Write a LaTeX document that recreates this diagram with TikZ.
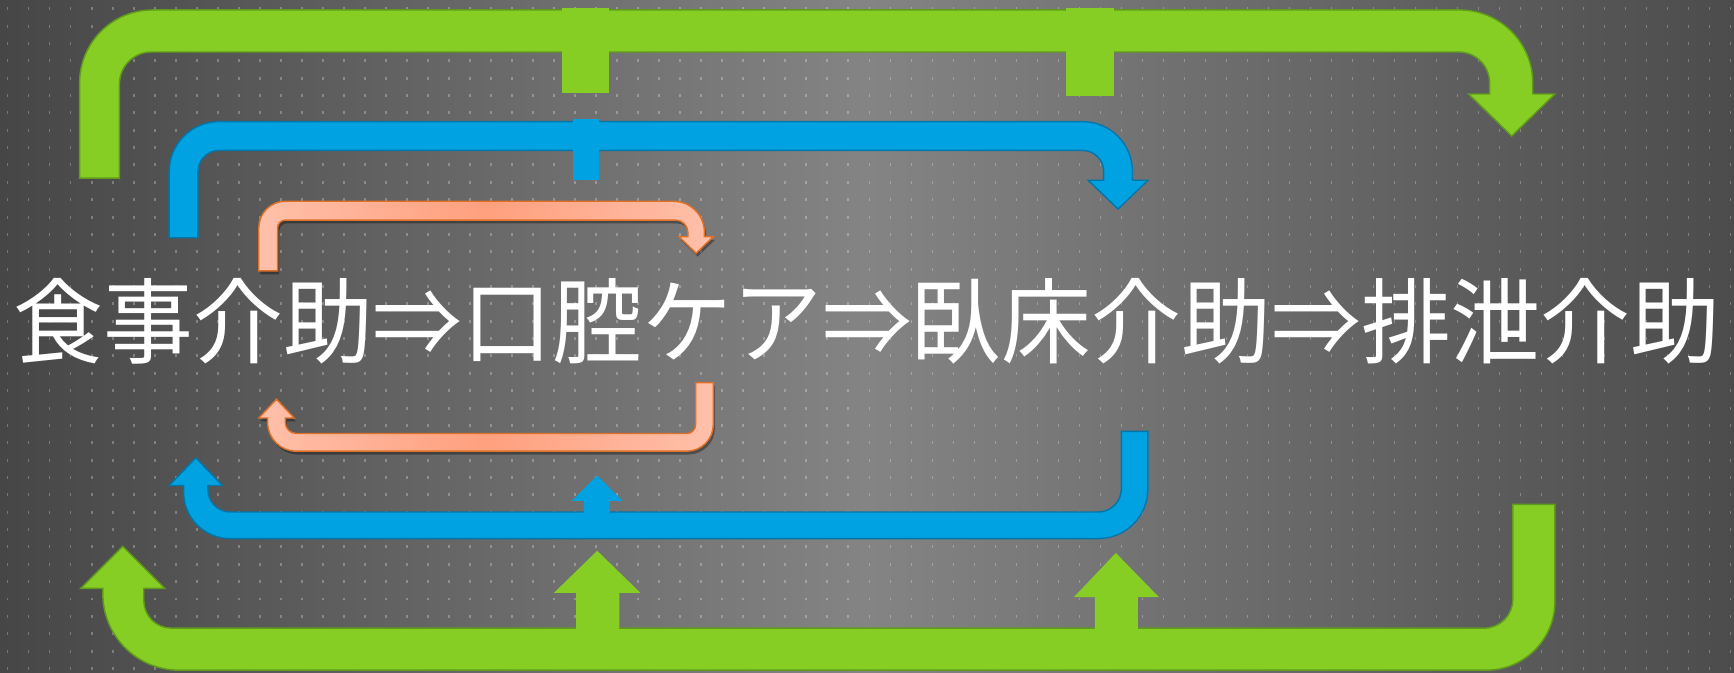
\documentclass[tikz,border=0pt]{standalone}
\usepackage{fontspec}
\newfontfamily\jp{Noto Sans CJK JP}
\definecolor{gfill}{RGB}{134,206,36}
\definecolor{gline}{RGB}{96,156,28}
\definecolor{bfill}{RGB}{0,162,226}
\definecolor{bline}{RGB}{0,118,170}
\definecolor{ofillL}{RGB}{255,192,170}
\definecolor{ofillM}{RGB}{255,160,126}
\definecolor{oline}{RGB}{222,112,40}
\definecolor{bgdark}{RGB}{70,70,70}
\definecolor{bgmid}{RGB}{132,132,132}
\definecolor{bgright}{RGB}{76,76,76}
\begin{document}
\begin{tikzpicture}[x=1pt,y=-1pt,
  garrow/.style={fill=gfill, draw=gline, line width=1.3pt},
  barrow/.style={fill=bfill, draw=bline, line width=1.3pt},
  oarrow/.style={left color=ofillL, right color=ofillL, middle color=ofillM, draw=oline, line width=1.3pt,
     preaction={fill=black, opacity=0.35, transform canvas={xshift=1.5pt, yshift=-3pt}}},
  gtick/.style={fill=gfill},
  btick/.style={fill=bfill},
  dotcol/.style={draw=white, opacity=0.27, line width=1.3pt, dash pattern=on 2.7pt off 13pt},
  label/.style={text=white, font=\jp\fontsize{84}{90}\selectfont, inner sep=0pt, xscale=0.967}]
\useasboundingbox (0,0) rectangle (1568,608);
% background
\fill[left color=bgdark, right color=bgright, middle color=bgmid] (0,0) rectangle (1568,608);
\foreach \i in {0,...,82} {
  \draw[dotcol] (7+19*\i, 6.5) -- (7+19*\i, 608);
}
% top green arrow
\draw[garrow] (72,161) -- (72,75) arc[start angle=180, end angle=270, radius=66]
  -- (1320,9) arc[start angle=270, end angle=360, radius=66]
  -- (1386,85) -- (1406,85) -- (1367,123) -- (1328,85) -- (1347,85) -- (1347,75)
  arc[start angle=0, end angle=-90, radius=28] -- (137,47)
  arc[start angle=270, end angle=180, radius=29] -- (108,161) -- cycle;
\fill[gtick] (508,7) rectangle (551,84);
\fill[gtick] (964,7) rectangle (1007,87);
% top blue arrow
\draw[barrow] (153,215) -- (153,155) arc[start angle=180, end angle=270, radius=45]
  -- (979,110) arc[start angle=270, end angle=360, radius=45]
  -- (1024,163) -- (1038,163) -- (1011,189) -- (984,163) -- (998,163) -- (998,155)
  arc[start angle=0, end angle=-90, radius=19] -- (198,136)
  arc[start angle=270, end angle=180, radius=19] -- (179,215) -- cycle;
\fill[btick] (518,108) rectangle (542,163);
% top orange arrow
\draw[oarrow] (234,245) -- (234,206) arc[start angle=180, end angle=270, radius=24]
  -- (609,182) arc[start angle=270, end angle=360, radius=28]
  -- (637,214) -- (645,214) -- (629.5,229) -- (614,214) -- (622,214) -- (622,210)
  arc[start angle=0, end angle=-90, radius=11] -- (258,199)
  arc[start angle=270, end angle=180, radius=7] -- (251,245) -- cycle;
% text
\node[label, anchor=base] (txt) at (784,322) {食事介助⇒口腔ケア⇒臥床介助⇒排泄介助};
% bottom orange arrow
\draw[oarrow] (645,346) -- (645,384) arc[start angle=0, end angle=90, radius=24]
  -- (268,408) arc[start angle=90, end angle=180, radius=26]
  -- (242,378) -- (234,378) -- (250,361) -- (266,378) -- (258,378) -- (258,382)
  arc[start angle=180, end angle=90, radius=10] -- (621,392)
  arc[start angle=90, end angle=0, radius=8] -- (629,346) -- cycle;
% bottom blue arrow
\draw[barrow] (1038,390) -- (1038,442) arc[start angle=0, end angle=90, radius=45]
  -- (208,487) arc[start angle=90, end angle=180, radius=42]
  -- (166,439) -- (153,439) -- (177,414) -- (201,439) -- (188,439) -- (188,443)
  arc[start angle=180, end angle=90, radius=20] -- (993,463)
  arc[start angle=90, end angle=0, radius=21] -- (1014,390) -- cycle;
\fill[btick] (528,470) -- (528,453) -- (517,453) -- (540,430) -- (563,453) -- (551,453) -- (551,470) -- cycle;
% bottom green arrow
\draw[garrow] (1406,456) -- (1406,544) arc[start angle=0, end angle=90, radius=62]
  -- (162,606) arc[start angle=90, end angle=180, radius=69]
  -- (93,532) -- (73,532) -- (111,494) -- (149,532) -- (130,532) -- (130,543)
  arc[start angle=180, end angle=90, radius=25] -- (1342,568)
  arc[start angle=90, end angle=0, radius=26] -- (1368,456) -- cycle;
\fill[gtick] (521,576) -- (521,536) -- (501,536) -- (540,498) -- (579,536) -- (560,536) -- (560,576) -- cycle;
\fill[gtick] (990,576) -- (990,540) -- (971,540) -- (1009,500) -- (1048,540) -- (1029,540) -- (1029,576) -- cycle;
\end{tikzpicture}
\end{document}
